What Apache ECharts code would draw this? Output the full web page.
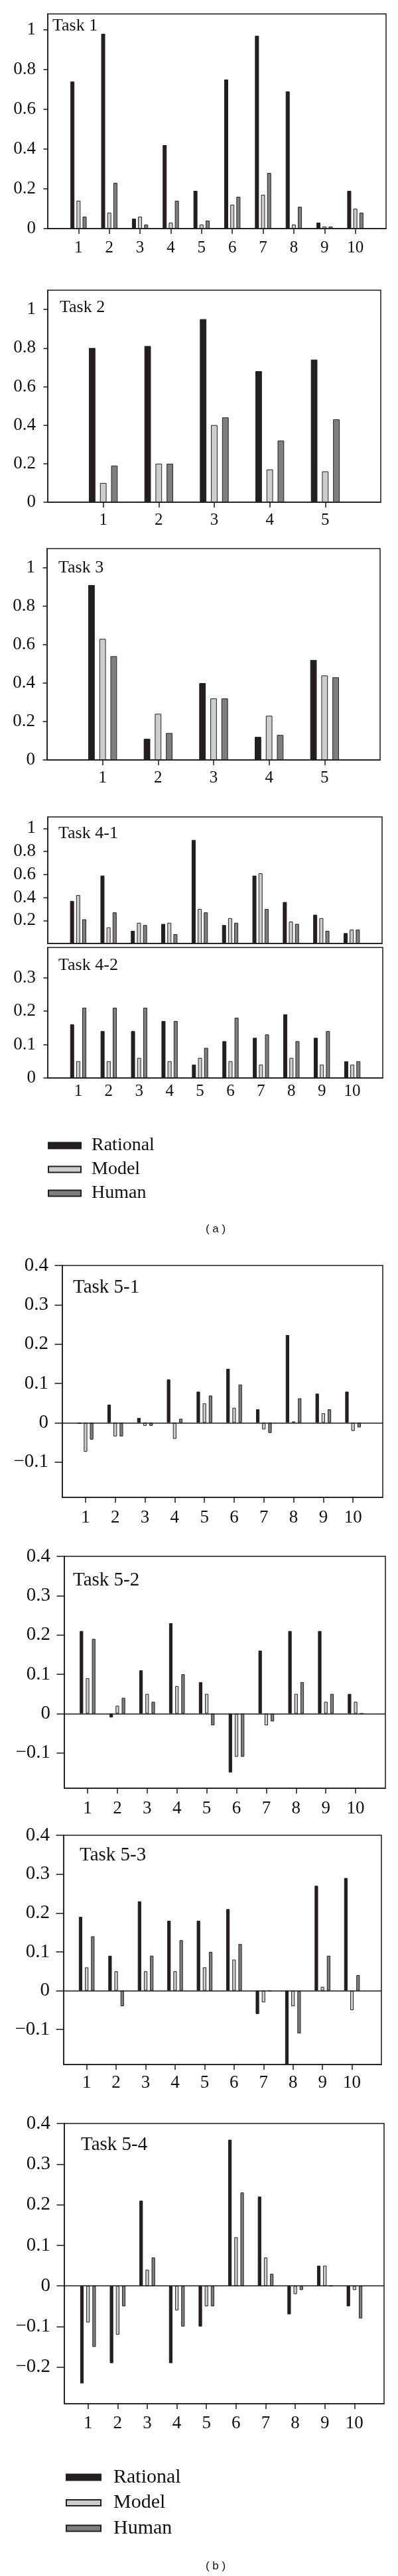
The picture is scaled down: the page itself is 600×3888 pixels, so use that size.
<!DOCTYPE html>
<html><head><meta charset="utf-8">
<script src="https://cdn.jsdelivr.net/npm/echarts@6/dist/echarts.min.js"></script>
<style>html,body{margin:0;padding:0;background:#fff}#c{width:600px;height:3888px}</style>
</head><body><div id="c"></div><script>
// ---------- data ----------
const seriesNames = ['Rational', 'Model', 'Human'];
const cats10 = [1, 2, 3, 4, 5, 6, 7, 8, 9, 10];
const cats5 = [1, 2, 3, 4, 5];

const task1Rational = [0.74, 0.98, 0.05, 0.42, 0.19, 0.75, 0.97, 0.69, 0.03, 0.19];
const task1Model    = [0.14, 0.08, 0.06, 0.03, 0.02, 0.12, 0.17, 0.02, 0.01, 0.10];
const task1Human    = [0.06, 0.23, 0.02, 0.14, 0.04, 0.16, 0.28, 0.11, 0.01, 0.08];

const task2Rational = [0.80, 0.81, 0.95, 0.68, 0.74];
const task2Model    = [0.10, 0.20, 0.40, 0.17, 0.16];
const task2Human    = [0.19, 0.20, 0.44, 0.32, 0.43];

const task3Rational = [0.91, 0.11, 0.40, 0.12, 0.52];
const task3Model    = [0.63, 0.24, 0.32, 0.23, 0.44];
const task3Human    = [0.54, 0.14, 0.32, 0.13, 0.43];

const task41Rational = [0.37, 0.59, 0.11, 0.17, 0.90, 0.16, 0.59, 0.36, 0.25, 0.09];
const task41Model    = [0.42, 0.14, 0.18, 0.18, 0.30, 0.22, 0.61, 0.19, 0.22, 0.12];
const task41Human    = [0.21, 0.27, 0.16, 0.08, 0.27, 0.18, 0.30, 0.17, 0.11, 0.12];

const task42Rational = [0.16, 0.14, 0.14, 0.17, 0.04, 0.11, 0.12, 0.19, 0.12, 0.05];
const task42Model    = [0.05, 0.05, 0.06, 0.05, 0.06, 0.05, 0.04, 0.06, 0.04, 0.04];
const task42Human    = [0.21, 0.21, 0.21, 0.17, 0.09, 0.18, 0.13, 0.11, 0.14, 0.05];

const task51Rational = [-0.003, 0.046, 0.012, 0.11, 0.079, 0.137, 0.034, 0.223, 0.074, 0.079];
const task51Model    = [-0.074, -0.035, -0.008, -0.041, 0.049, 0.038, -0.017, 0.003, 0.024, -0.021];
const task51Human    = [-0.043, -0.035, -0.008, 0.01, 0.069, 0.097, -0.026, 0.062, 0.034, -0.012];

const task52Rational = [0.21, -0.01, 0.11, 0.23, 0.08, -0.15, 0.16, 0.21, 0.21, 0.05];
const task52Model    = [0.09, 0.02, 0.05, 0.07, 0.05, -0.11, -0.03, 0.05, 0.03, 0.03];
const task52Human    = [0.19, 0.04, 0.03, 0.10, -0.03, -0.11, -0.02, 0.08, 0.05, 0];

const task53Rational = [0.19, 0.09, 0.23, 0.18, 0.18, 0.21, -0.06, -0.19, 0.27, 0.29];
const task53Model    = [0.06, 0.05, 0.05, 0.05, 0.06, 0.08, -0.03, -0.04, 0.01, -0.05];
const task53Human    = [0.14, -0.04, 0.09, 0.13, 0.10, 0.12, 0, -0.11, 0.09, 0.04];

const task54Rational = [-0.24, -0.19, 0.21, -0.19, -0.10, 0.36, 0.22, -0.07, 0.05, -0.05];
const task54Model    = [-0.09, -0.12, 0.04, -0.06, -0.05, 0.12, 0.07, -0.02, 0.05, -0.01];
const task54Human    = [-0.15, -0.05, 0.07, -0.10, -0.05, 0.23, 0.03, -0.01, 0, -0.08];

const yTicksUnit = [0, 0.2, 0.4, 0.6, 0.8, 1];
const yTicks41 = [0.2, 0.4, 0.6, 0.8, 1];
const yTicks42 = [0, 0.1, 0.2, 0.3];
const yTicks5 = [-0.1, 0, 0.1, 0.2, 0.3, 0.4];
const yTicks54 = [-0.2, -0.1, 0, 0.1, 0.2, 0.3, 0.4];

// ---------- layout ----------
const SERIF = '"Liberation Serif", "DejaVu Serif", serif';
const COLORS = ['#231f20', '#cdcdcd', '#7f7f7f'];
const A = {fs:27, xfs:25, tfs:26, yTick:6.5, ylm:18};
const B = {fs:29, xfs:27, tfs:29, yTick:11.5, ylm:21};
const panels = [
  Object.assign({title:'Task 1', cats:cats10, vals:[task1Rational, task1Model, task1Human], yTicks:yTicksUnit,
   left:72, top:21, width:510, height:324, xMin:0, xMax:11, yMin:0, yMax:1.08,
   bw:6, gap:'53%', xLab:true, xTick:true, lm:17, tx:79, ty:39, zero:false}, A),
  Object.assign({title:'Task 2', cats:cats5, vals:[task2Rational, task2Model, task2Human], yTicks:yTicksUnit,
   left:72, top:438, width:502, height:320, xMin:0, xMax:6, yMin:0, yMax:1.1,
   bw:9.8, gap:'71%', xLab:true, xTick:true, lm:15, tx:90, ty:464, zero:false}, A),
  Object.assign({title:'Task 3', cats:cats5, vals:[task3Rational, task3Model, task3Human], yTicks:yTicksUnit,
   left:71, top:828, width:502, height:319, xMin:0, xMax:6, yMin:0, yMax:1.1,
   bw:9.8, gap:'71%', xLab:true, xTick:true, lm:15, tx:88, ty:857, zero:false}, A),
  Object.assign({title:'Task 4-1', cats:cats10, vals:[task41Rational, task41Model, task41Human], yTicks:yTicks41,
   left:72, top:1233, width:504, height:191, xMin:0, xMax:11, yMin:0, yMax:1.1,
   bw:6, gap:'53%', xLab:false, xTick:false, lm:10, tx:88, ty:1258, zero:false}, A),
  Object.assign({title:'Task 4-2', cats:cats10, vals:[task42Rational, task42Model, task42Human], yTicks:yTicks42,
   left:72, top:1430, width:505, height:197, xMin:0, xMax:11, yMin:0, yMax:0.39,
   bw:6, gap:'53%', xLab:true, xTick:false, lm:8, tx:88, ty:1457, zero:false}, A),
  Object.assign({title:'Task 5-1', cats:cats10, vals:[task51Rational, task51Model, task51Human], yTicks:yTicks5,
   left:94, top:1910, width:483, height:350, xMin:0.22, xMax:11, yMin:-0.19, yMax:0.4,
   bw:5.2, gap:'77%', xLab:true, xTick:true, lm:17, tx:110, ty:1943, zero:true}, B),
  Object.assign({title:'Task 5-2', cats:cats10, vals:[task52Rational, task52Model, task52Human], yTicks:yTicks5,
   left:97, top:2349, width:484, height:350, xMin:0.22, xMax:11, yMin:-0.19, yMax:0.4,
   bw:5.2, gap:'77%', xLab:true, xTick:true, lm:17, tx:110, ty:2385, zero:true}, B),
  Object.assign({title:'Task 5-3', cats:cats10, vals:[task53Rational, task53Model, task53Human], yTicks:yTicks5,
   left:96, top:2770, width:479, height:346, xMin:0.22, xMax:11, yMin:-0.19, yMax:0.4,
   bw:5.2, gap:'77%', xLab:true, xTick:true, lm:14, tx:120, ty:2800, zero:true}, B),
  Object.assign({title:'Task 5-4', cats:cats10, vals:[task54Rational, task54Model, task54Human], yTicks:yTicks54,
   left:97, top:3205, width:482, height:423, xMin:0.2, xMax:11, yMin:-0.29, yMax:0.4,
   bw:5.2, gap:'77%', xLab:true, xTick:true, lm:16, tx:122, ty:3237, zero:true}, B)
];

const grid = [], xAxis = [], yAxis = [], series = [], graphic = [];
const fmt = v => (Math.round(v * 100) / 100).toString().replace('-', '\u2212');

panels.forEach((p, i) => {
  grid.push({left:p.left, top:p.top, width:p.width, height:p.height, show:true,
    borderColor:'#1a1a1a', borderWidth:1.5, backgroundColor:'#fff', containLabel:false});
  xAxis.push({type:'value', gridIndex:i, min:p.xMin, max:p.xMax,
    axisLine:{show:true, onZero:false, lineStyle:{color:'#1a1a1a', width:1.5}},
    axisTick:{show:p.xTick, customValues:p.cats, length:8, lineStyle:{color:'#1a1a1a', width:1.5}},
    axisLabel:{show:p.xLab, customValues:p.cats, margin:p.lm, fontFamily:SERIF, fontSize:p.xfs, color:'#111'},
    splitLine:{show:false}});
  yAxis.push({type:'value', gridIndex:i, min:p.yMin, max:p.yMax,
    axisLine:{show:true, lineStyle:{color:'#1a1a1a', width:1.5}},
    axisTick:{show:true, customValues:p.yTicks, length:p.yTick, lineStyle:{color:'#1a1a1a', width:1.5}},
    axisLabel:{customValues:p.yTicks, formatter:fmt, margin:p.ylm, fontFamily:SERIF, fontSize:p.fs, color:'#111'},
    splitLine:{show:false}});
  p.vals.forEach((arr, k) => {
    const s = {type:'bar', name:seriesNames[k], xAxisIndex:i, yAxisIndex:i,
      barWidth:p.bw, barGap:p.gap, animation:false,
      itemStyle:{color:COLORS[k], borderColor:'#231f20', borderWidth:1},
      data:p.cats.map((c, j) => [c, arr[j]])};
    if (k === 0 && p.zero) {
      s.markLine = {silent:true, symbol:'none', label:{show:false}, animation:false,
        lineStyle:{color:'#1a1a1a', width:1.5, type:'solid'}, data:[{yAxis:0}]};
    }
    series.push(s);
  });
  graphic.push({type:'text', x:p.tx, y:p.ty,
    style:{text:p.title, font:p.tfs + 'px ' + SERIF, fill:'#111', verticalAlign:'middle'}});
});

graphic.push({type:'text', x:325, y:1855, style:{text:'( a )', font:'17px "Liberation Sans", Arial, sans-serif', fill:'#111', align:'center', verticalAlign:'middle'}});
graphic.push({type:'text', x:325, y:3873, style:{text:'( b )', font:'17px "Liberation Sans", Arial, sans-serif', fill:'#111', align:'center', verticalAlign:'middle'}});

const legendBase = (left, top, fs, w, gap, pad) => ({
  data:seriesNames, orient:'vertical', left:left, top:top, padding:0,
  itemWidth:w, itemHeight:9, itemGap:gap, icon:'rect', selectedMode:false,
  textStyle:{fontFamily:SERIF, fontSize:fs, lineHeight:fs, color:'#111', padding:[0, 0, 0, pad]}
});

const chart = echarts.init(document.getElementById('c'), null, {renderer:'canvas'});
chart.setOption({
  animation:false,
  backgroundColor:'#fff',
  legend:[legendBase(72, 1715, 28, 49, 8, 11), legendBase(99, 3724, 30, 52, 8.5, 14)],
  grid, xAxis, yAxis, series, graphic
});
</script></body></html>
